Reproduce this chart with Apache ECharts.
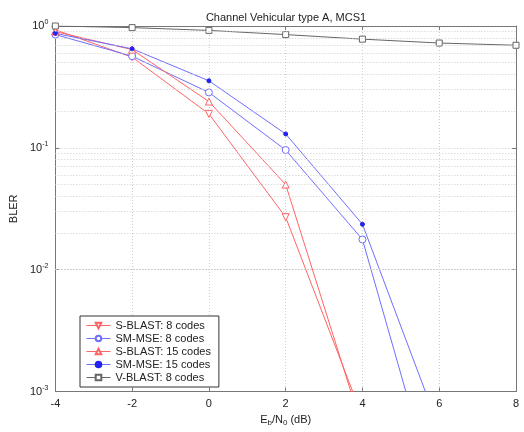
<!DOCTYPE html>
<html>
<head>
<meta charset="utf-8">
<script src="https://cdn.jsdelivr.net/npm/echarts@6/dist/echarts.min.js"></script>
<style>html,body{margin:0;padding:0;background:#fff;}#c{width:524px;height:432px;}</style>
</head>
<body>
<div id="c"></div>
<script>
var xValues = [-4, -2, 0, 2, 4, 6, 8];
var sBlast8 = [0.93, 0.555, 0.19, 0.027, 0.00062];
var smMse8 = [0.85, 0.565, 0.285, 0.096, 0.0177, 0.00011];
var sBlast15 = [0.90, 0.64, 0.24, 0.05, 0.0005];
var smMse15 = [0.87, 0.65, 0.355, 0.13, 0.0236, 0.0005];
var vBlast8 = [1.0, 0.97, 0.92, 0.85, 0.78, 0.725, 0.695];
var xTicks = [-4, -2, 0, 2, 4, 6, 8];
var yTickLabels = {'1': '0', '0.1': '-1', '0.01': '-2', '0.001': '-3'};
var minorGrid = [0.002,0.003,0.004,0.005,0.006,0.007,0.008,0.009,
                 0.02,0.03,0.04,0.05,0.06,0.07,0.08,0.09,
                 0.2,0.3,0.4,0.5,0.6,0.7,0.8,0.9];

function pairs(arr) { return arr.map(function (v, i) { return [xValues[i], v]; }); }

var red = '#ff6464', blue = '#6e6eff', gray = '#666666';
var font = 'Liberation Sans, Arial, sans-serif';

var chart = echarts.init(document.getElementById('c'));
var axisLineStyle = { color: '#777', width: 1 };
var gridDots = { color: '#cccccc', type: [1, 2], width: 1 };

chart.setOption({
  animation: false,
  backgroundColor: '#fff',
  textStyle: { fontFamily: font },
  title: {
    text: 'Channel Vehicular type A, MCS1',
    left: 281, top: 7, textAlign: 'center',
    textStyle: { fontSize: 11, fontWeight: 'normal', color: '#222', fontFamily: font }
  },
  grid: { left: 47, right: 8, top: 26, bottom: 35, show: false },
  legend: {
    orient: 'vertical', left: 80, top: 316,
    backgroundColor: '#fff', borderColor: '#333', borderWidth: 1,
    padding: [4, 8, 4, 6], itemGap: 2, itemWidth: 24, itemHeight: 7,
    lineStyle: { width: 1 },
    textStyle: { fontSize: 11, color: '#222', fontFamily: font },
    data: ['S-BLAST: 8 codes', 'SM-MSE: 8 codes', 'S-BLAST: 15 codes', 'SM-MSE: 15 codes', 'V-BLAST: 8 codes']
  },
  xAxis: [{
    type: 'value', min: -4, max: 8, interval: 2,
    axisLine: { show: true, onZero: false, lineStyle: axisLineStyle },
    axisTick: { inside: true, length: 4, lineStyle: axisLineStyle },
    axisLabel: { color: '#222', fontSize: 11, margin: 7,
      customValues: xTicks },
    splitLine: { show: true, lineStyle: gridDots },
    name: '{b|E}{s|b}{b|/N}{s|0}{b| (dB)}',
    nameLocation: 'middle', nameGap: 20,
    nameTextStyle: {
      rich: {
        b: { fontSize: 11, color: '#222', fontFamily: font },
        s: { fontSize: 8, color: '#222', fontFamily: font, padding: [6, 0, 0, 0] }
      }
    }
  }, {
    type: 'value', min: -4, max: 8, interval: 2, position: 'top',
    axisLine: { show: true, onZero: false, lineStyle: axisLineStyle },
    axisTick: { inside: true, length: 4, lineStyle: axisLineStyle },
    axisLabel: { show: false }, splitLine: { show: false }
  }],
  yAxis: [{
    type: 'log', logBase: 10, min: 0.001, max: 1,
    axisLine: { show: true, onZero: false, lineStyle: axisLineStyle },
    axisTick: { inside: true, length: 4, lineStyle: axisLineStyle },
    splitLine: { show: true, lineStyle: gridDots },
    axisLabel: {
      margin: 7,
      formatter: function (v) {
        var key = String(+v.toPrecision(3));
        return '{b|10}{s|' + (yTickLabels[key] || '') + '}';
      },
      rich: {
        b: { fontSize: 11, color: '#222', fontFamily: font },
        s: { fontSize: 7, color: '#222', fontFamily: font, padding: [0, 0, 7, 0] }
      }
    },
    name: 'BLER', nameLocation: 'middle', nameGap: 24, nameRotate: 90,
    nameTextStyle: { fontSize: 11, color: '#222', fontFamily: font }
  }, {
    type: 'log', logBase: 10, min: 0.001, max: 1, position: 'right',
    axisLine: { show: true, onZero: false, lineStyle: axisLineStyle },
    axisTick: { inside: true, length: 4, lineStyle: axisLineStyle },
    axisLabel: { show: false }, splitLine: { show: false }
  }],
  series: [{
    name: 'S-BLAST: 8 codes', type: 'line', data: pairs(sBlast8),
    symbol: 'triangle', symbolRotate: 180, symbolSize: 7, showAllSymbol: true,
    itemStyle: { color: '#fff', borderColor: red, borderWidth: 1 },
    lineStyle: { color: red, width: 1 }, clip: true, z: 3,
    markLine: {
      silent: true, symbol: 'none', animation: false,
      label: { show: false },
      lineStyle: { color: '#cccccc', type: [1, 2], width: 1 },
      data: minorGrid.map(function (v) { return { yAxis: v }; })
    }
  }, {
    name: 'SM-MSE: 8 codes', type: 'line', data: pairs(smMse8),
    symbol: 'circle', symbolSize: 7, showAllSymbol: true,
    itemStyle: { color: '#fff', borderColor: blue, borderWidth: 1 },
    lineStyle: { color: blue, width: 1 }, clip: true, z: 3
  }, {
    name: 'S-BLAST: 15 codes', type: 'line', data: pairs(sBlast15),
    symbol: 'triangle', symbolSize: 7, showAllSymbol: true,
    itemStyle: { color: '#fff', borderColor: red, borderWidth: 1 },
    lineStyle: { color: red, width: 1 }, clip: true, z: 3
  }, {
    name: 'SM-MSE: 15 codes', type: 'line', data: pairs(smMse15),
    symbol: 'circle', symbolSize: 4, showAllSymbol: true,
    itemStyle: { color: '#2222ee', borderColor: '#2222ee', borderWidth: 1 },
    lineStyle: { color: blue, width: 1 }, clip: true, z: 3
  }, {
    name: 'V-BLAST: 8 codes', type: 'line', data: pairs(vBlast8),
    symbol: 'rect', symbolSize: 6, showAllSymbol: true,
    itemStyle: { color: '#fff', borderColor: gray, borderWidth: 1 },
    lineStyle: { color: gray, width: 1 }, clip: true, z: 3
  }]
});
</script>
</body>
</html>
